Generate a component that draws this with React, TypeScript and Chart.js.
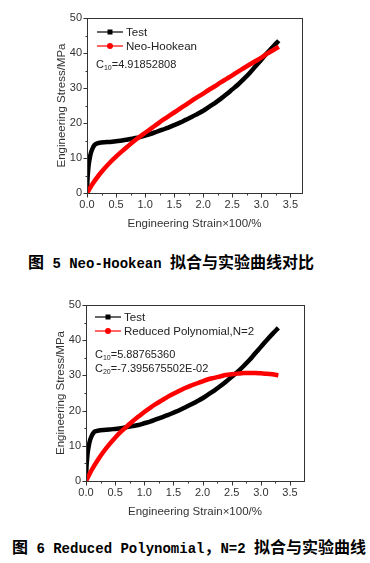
import React, { useEffect, useRef } from "react";
import { Chart, registerables } from "chart.js";
Chart.register(...registerables);

// ---------- data ----------
const testStrain = [0, 0.005, 0.01, 0.02, 0.03, 0.05, 0.07, 0.1, 0.13, 0.16, 0.2, 0.3, 0.4, 0.5, 0.6, 0.7, 0.8, 0.9, 1.0, 1.1, 1.2, 1.3, 1.4, 1.5, 1.6, 1.7, 1.8, 1.9, 2.0, 2.1, 2.2, 2.3, 2.4, 2.5, 2.6, 2.7, 2.8, 2.9, 3.0, 3.1, 3.2, 3.3];
const testStress = [0.3, 2.5, 4.5, 6.5, 8.2, 10.2, 11.6, 12.9, 13.7, 14.1, 14.3, 14.5, 14.6, 14.8, 15.0, 15.3, 15.6, 15.9, 16.4, 16.9, 17.5, 18.1, 18.7, 19.4, 20.1, 20.9, 21.7, 22.6, 23.5, 24.6, 25.7, 26.9, 28.2, 29.6, 31.0, 32.6, 34.3, 36.2, 38.1, 40.0, 41.8, 43.5];

const fitStrain = [0, 0.1, 0.2, 0.3, 0.4, 0.5, 0.6, 0.7, 0.8, 0.9, 1.0, 1.1, 1.2, 1.3, 1.4, 1.5, 1.6, 1.7, 1.8, 1.9, 2.0, 2.1, 2.2, 2.3, 2.4, 2.5, 2.6, 2.7, 2.8, 2.9, 3.0, 3.1, 3.2, 3.3];
const neoHookeanStress = [0, 2.7, 5.0, 7.0, 8.8, 10.4, 11.9, 13.3, 14.7, 16.0, 17.2, 18.4, 19.6, 20.8, 21.9, 23.0, 24.1, 25.2, 26.3, 27.4, 28.4, 29.5, 30.5, 31.6, 32.6, 33.6, 34.7, 35.7, 36.7, 37.7, 38.7, 39.8, 40.8, 41.8];
const reducedPolyStress = [0, 3.2, 5.9, 8.3, 10.4, 12.3, 14.0, 15.5, 17.0, 18.3, 19.6, 20.8, 21.9, 22.9, 23.9, 24.8, 25.6, 26.4, 27.1, 27.7, 28.3, 28.9, 29.3, 29.7, 30.1, 30.3, 30.5, 30.7, 30.7, 30.7, 30.6, 30.5, 30.3, 30.0];

const xMajorTicks = [0, 0.5, 1.0, 1.5, 2.0, 2.5, 3.0, 3.5];
const xMinorTicks = [0.25, 0.75, 1.25, 1.75, 2.25, 2.75, 3.25];
const yMajorTicks = [0, 10, 20, 30, 40, 50];
const yMinorTicks = [5, 15, 25, 35, 45];

const xTitle = "Engineering Strain\u00d7100/%";
const yTitle = "Engineering Stress/MPa";

const SANS = '"Liberation Sans", Arial, sans-serif';

type Panel = {
  top: number;
  height: number;
  left: number;
  right: number;
  plotTop: number;
  plotBottom: number;
  xMax: number;
  fitLabel: string;
  fitValues: number[];
  legendX: number;
  legendY1: number;
  legendY2: number;
  coefX: number;
  coefs: { sub: string; text: string; y: number }[];
};

const panels: Panel[] = [
  {
    top: 0, height: 240, left: 87, right: 302, plotTop: 18, plotBottom: 193, xMax: 3.7,
    fitLabel: "Neo-Hookean", fitValues: neoHookeanStress,
    legendX: 97, legendY1: 32, legendY2: 46, coefX: 96,
    coefs: [{ sub: "10", text: "=4.91852808", y: 65 }],
  },
  {
    top: 290, height: 240, left: 86, right: 304, plotTop: 15, plotBottom: 191, xMax: 3.74,
    fitLabel: "Reduced Polynomial,N=2", fitValues: reducedPolyStress,
    legendX: 95, legendY1: 27, legendY2: 41, coefX: 95,
    coefs: [
      { sub: "10", text: "=5.88765360", y: 65 },
      { sub: "20", text: "=-7.395675502E-02", y: 79 },
    ],
  },
];

function makePlugin(p: Panel) {
  return {
    id: "originStyle",
    afterDatasetsDraw(chart: any) {
      const ctx = chart.ctx as CanvasRenderingContext2D;
      const a = chart.chartArea;
      const xs = chart.scales.x;
      const ys = chart.scales.y;
      ctx.save();
      // frame
      ctx.strokeStyle = "#333";
      ctx.lineWidth = 1;
      ctx.strokeRect(Math.round(a.left) + 0.5, Math.round(a.top) + 0.5, Math.round(a.right - a.left), Math.round(a.bottom - a.top));
      // ticks
      ctx.beginPath();
      const by = Math.round(a.bottom) + 0.5;
      const lx = Math.round(a.left) + 0.5;
      for (const t of xMajorTicks) { const x = Math.round(xs.getPixelForValue(t)) + 0.5; ctx.moveTo(x, by); ctx.lineTo(x, by + 4); }
      for (const t of xMinorTicks) { const x = Math.round(xs.getPixelForValue(t)) + 0.5; ctx.moveTo(x, by); ctx.lineTo(x, by + 2); }
      for (const t of yMajorTicks) { const y = Math.round(ys.getPixelForValue(t)) + 0.5; ctx.moveTo(lx, y); ctx.lineTo(lx - 4, y); }
      for (const t of yMinorTicks) { const y = Math.round(ys.getPixelForValue(t)) + 0.5; ctx.moveTo(lx, y); ctx.lineTo(lx - 2, y); }
      ctx.stroke();

      // axis titles
      ctx.fillStyle = "#333";
      ctx.font = `11.5px ${SANS}`;
      ctx.textAlign = "center";
      ctx.textBaseline = "middle";
      ctx.fillText(xTitle, (a.left + a.right) / 2, a.bottom + 31);
      ctx.save();
      ctx.translate(a.left - 25, (a.top + a.bottom) / 2);
      ctx.rotate(-Math.PI / 2);
      ctx.fillText(yTitle, 0, 0);
      ctx.restore();

      // legend
      const lx0 = p.legendX, lx1 = p.legendX + 26, mx = p.legendX + 13;
      ctx.lineWidth = 1.2;
      ctx.strokeStyle = "#000";
      ctx.beginPath(); ctx.moveTo(lx0, p.legendY1); ctx.lineTo(lx1, p.legendY1); ctx.stroke();
      ctx.fillStyle = "#000";
      ctx.fillRect(mx - 2.5, p.legendY1 - 2.5, 5, 5);
      ctx.strokeStyle = "#ff0000";
      ctx.beginPath(); ctx.moveTo(lx0, p.legendY2); ctx.lineTo(lx1, p.legendY2); ctx.stroke();
      ctx.fillStyle = "#ff0000";
      ctx.beginPath(); ctx.arc(mx, p.legendY2, 3, 0, Math.PI * 2); ctx.fill();

      ctx.fillStyle = "#222";
      ctx.textAlign = "left";
      ctx.font = `11.5px ${SANS}`;
      ctx.fillText("Test", lx1 + 3, p.legendY1 + 0.5);
      ctx.fillText(p.fitLabel, lx1 + 3, p.legendY2 + 0.5);

      // coefficients
      for (const c of p.coefs) {
        let x = p.coefX;
        ctx.font = `11px ${SANS}`;
        ctx.fillText("C", x, c.y);
        x += ctx.measureText("C").width;
        ctx.font = `7px ${SANS}`;
        ctx.fillText(c.sub, x, c.y + 3);
        x += ctx.measureText(c.sub).width;
        ctx.font = `11px ${SANS}`;
        ctx.fillText(c.text, x, c.y);
      }
      ctx.restore();
    },
  };
}

function PanelChart({ p }: { p: Panel }) {
  const ref = useRef<HTMLCanvasElement>(null);
  useEffect(() => {
    if (!ref.current) return;
    const chart = new Chart(ref.current, {
      type: "line",
      data: {
        datasets: [
          {
            label: p.fitLabel,
            data: fitStrain.map((x, i) => ({ x, y: p.fitValues[i] })),
            borderColor: "#ff0000",
            backgroundColor: "#ff0000",
            borderWidth: 4.5,
            pointRadius: 0,
            tension: 0.3,
            order: 0,
          },
          {
            label: "Test",
            data: testStrain.map((x, i) => ({ x, y: testStress[i] })),
            borderColor: "#000",
            backgroundColor: "#000",
            borderWidth: 4.5,
            pointRadius: 0,
            tension: 0.3,
            order: 1,
          },
        ],
      },
      options: {
        responsive: false,
        devicePixelRatio: 1,
        animation: false,
        layout: { padding: { top: p.plotTop, right: 370 - p.right, left: 0, bottom: 0 } },
        plugins: { legend: { display: false }, tooltip: { enabled: false } },
        scales: {
          x: {
            type: "linear",
            min: 0,
            max: p.xMax,
            grid: { display: false, drawTicks: false },
            border: { display: false },
            ticks: {
              stepSize: 0.5,
              includeBounds: false,
              padding: 5,
              color: "#333",
              font: { family: SANS, size: 11 },
              callback: (v: any) => Number(v).toFixed(1),
            },
            afterFit: (s: any) => { s.height = p.height - p.plotBottom; },
          },
          y: {
            type: "linear",
            min: 0,
            max: 50,
            grid: { display: false, drawTicks: false },
            border: { display: false },
            ticks: {
              stepSize: 10,
              padding: 5,
              color: "#333",
              font: { family: SANS, size: 11 },
            },
            afterFit: (s: any) => { s.width = p.left; },
          },
        },
      },
      plugins: [makePlugin(p)],
    } as any);
    return () => chart.destroy();
  }, [p]);
  return (
    <canvas
      ref={ref}
      width={370}
      height={p.height}
      style={{ position: "absolute", left: 0, top: p.top, width: 370, height: p.height }}
    />
  );
}

const cjk: React.CSSProperties = { font: '700 16px "Noto Sans CJK SC", sans-serif' };
const mono: React.CSSProperties = { font: '700 14px "Liberation Mono", "DejaVu Sans Mono", monospace', whiteSpace: "pre" };

export default function App() {
  return (
    <div style={{ position: "absolute", left: 0, top: 0, width: 370, height: 563, background: "#fff", overflow: "hidden" }}>
      <PanelChart p={panels[0]} />
      <PanelChart p={panels[1]} />
      <div style={{ position: "absolute", left: 28, top: 249, height: 18, lineHeight: "18px", whiteSpace: "nowrap", color: "#000" }}>
        <span style={cjk}>图</span>
        <span style={mono}> 5 Neo-Hookean </span>
        <span style={cjk}>拟合与实验曲线对比</span>
      </div>
      <div style={{ position: "absolute", left: 12, top: 534, height: 18, lineHeight: "18px", whiteSpace: "nowrap", color: "#000" }}>
        <span style={cjk}>图</span>
        <span style={mono}> 6 Reduced Polynomial</span>
        <span style={cjk}>，</span>
        <span style={mono}>N=2 </span>
        <span style={cjk}>拟合与实验曲线</span>
      </div>
    </div>
  );
}
